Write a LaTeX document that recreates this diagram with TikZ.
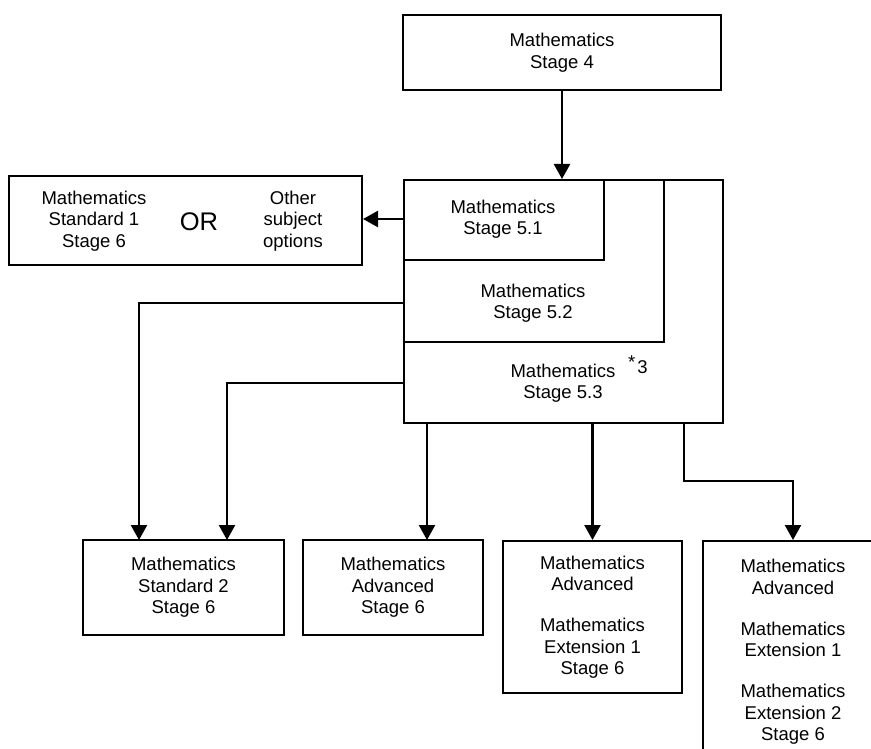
\documentclass[tikz,border=0pt]{standalone}
\usepackage{fontspec}
\setmainfont{Liberation Sans}
\usetikzlibrary{positioning, arrows.meta, calc}

\begin{document}
\begin{tikzpicture}[x=1pt, y=-1pt, font=\fontsize{18.5}{21.5}\selectfont,
  box/.style={draw=black, line width=2pt, inner sep=0pt, align=center},
  lbl/.style={inner sep=0pt, align=center},
  arr/.style={line width=2.4pt, -{Triangle[width=16pt, length=15pt]}}]
\useasboundingbox (0,0) rectangle (871,749);
\clip (0,0) rectangle (871,749);

% Stage 4
\node[box, minimum width=318pt, minimum height=75pt] (s4) at (562,52.5) {Mathematics\\Stage 4};

% Stage 5 (nested boxes)
\node[box, minimum width=319pt, minimum height=243pt, anchor=north west] (s53) at (403,179) {};
\node[box, minimum width=260pt, minimum height=162pt, anchor=north west] (s52) at (403,179) {};
\node[box, minimum width=200pt, minimum height=80pt, anchor=north west] (s51) at (403,179) {};
\node[lbl] (t51) at (503,219) {Mathematics\\Stage 5.1};
\node[lbl] (t52) at (533,303) {Mathematics\\Stage 5.2};
\node[lbl] (t53) at (563,383) {Mathematics\\Stage 5.3};
\node[lbl, anchor=base west] (star) at (628,373) {\raisebox{5pt}{*}\kern2pt 3};

% Standard 1 or other options
\node[box, minimum width=353pt, minimum height=89pt] (opt) at (185.5,220.5) {};
\node[lbl] (std1) at (94,221) {Mathematics\\Standard 1\\Stage 6};
\node[lbl, font=\fontsize{25.5}{28}\selectfont] (orw) at (199,222) {OR};
\node[lbl] (oth) at (293,221) {Other\\subject\\options};

% Stage 6 courses
\node[box, minimum width=201pt, minimum height=95pt] (std2) at (183.5,587.5) {Mathematics\\Standard 2\\Stage 6};
\node[box, minimum width=180pt, minimum height=95pt] (adv) at (393,587.5) {Mathematics\\Advanced\\Stage 6};
\node[box, minimum width=179pt, minimum height=152pt] (ext1) at (592.5,617) {Mathematics\\Advanced\\[19.5pt]Mathematics\\Extension 1\\Stage 6};
\node[box, minimum width=180pt, minimum height=222pt, anchor=north west] (ext2) at (702,540) {Mathematics\\Advanced\\[19.5pt]Mathematics\\Extension 1\\[19.5pt]Mathematics\\Extension 2\\Stage 6};

% Arrows
\coordinate (d1) at (139,540);
\coordinate (d2) at (227,540);
\coordinate (d3) at (427,540);
\coordinate (k4) at (684,481);
\draw[arr] (s4.south) -- (s4.south |- s53.north);
\draw[arr] (s53.west |- t51) -- (opt.east |- t51);
\draw[arr] (s53.west |- t52) -| (d1);
\draw[arr] (s53.west |- t53) -| (d2);
\draw[arr] (s53.south -| d3) -- (d3);
\draw[arr] (s53.south -| ext1.north) -- (ext1.north);
\draw[arr] (s53.south -| k4) -- (k4) -| (ext2.north);
\end{tikzpicture}
\end{document}
